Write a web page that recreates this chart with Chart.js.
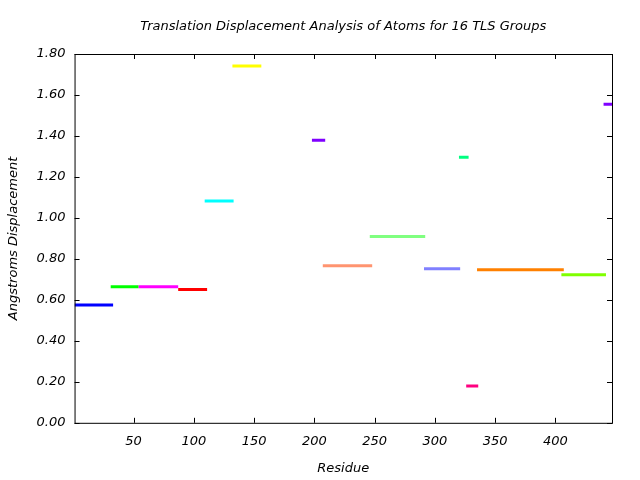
<!DOCTYPE html>
<html>
<head>
<meta charset="utf-8">
<script src="https://cdn.jsdelivr.net/npm/chart.js@4/dist/chart.umd.min.js"></script>
<style>
  html, body { margin: 0; padding: 0; background: #fff; }
  #wrap { width: 640px; height: 480px; }
</style>
</head>
<body>
<div id="wrap"><canvas id="tls-canvas"></canvas></div>
<script>
// TLS group residue ranges and their translation displacement
var groupStart = [1, 31, 54, 87, 109, 132, 198, 207, 246, 291, 320, 326, 335, 405, 440];
var groupEnd   = [33, 54, 87, 111, 133, 156, 209, 248, 292, 321, 328, 336, 407, 442, 447];
var groupValue = [0.575, 0.664, 0.664, 0.650, 1.082, 1.741, 1.379, 0.767, 0.909, 0.752, 1.296, 0.180, 0.747, 0.723, 1.555];
var xTicks = [50, 100, 150, 200, 250, 300, 350, 400];
var yTicks = [0, 0.2, 0.4, 0.6, 0.8, 1.0, 1.2, 1.4, 1.6, 1.8];
var chartTitle = 'Translation Displacement Analysis of Atoms for 16 TLS Groups';

var groupColors = ['#0000ff', '#00ff00', '#ff00ff', '#ff0000', '#00ffff', '#ffff00', '#7f00ff',
    '#ff9470', '#80ff80', '#8080ff', '#00ff80', '#ff0080', '#ff8000', '#80ff00', '#7f00ff'];

var fontFam = '"DejaVu Sans", sans-serif';

var datasets = groupStart.map(function(s, i) {
    return {
        label: 'Group ' + (i + 1),
        data: [{x: s, y: groupValue[i]}, {x: groupEnd[i], y: groupValue[i]}],
        showLine: true,
        borderColor: groupColors[i],
        borderWidth: 3,
        pointRadius: 0,
        borderCapStyle: 'butt'
    };
});

// gnuplot style frame with inward ticks on all sides, title centred on the plot
var framePlugin = {
    id: 'frame',
    afterDraw: function(chart) {
        var c = chart.ctx, a = chart.chartArea;
        var xs = chart.scales.x, ys = chart.scales.y;
        c.save();
        c.strokeStyle = '#000';
        c.lineWidth = 1;
        c.strokeRect(a.left + 0.5, a.top + 0.5, a.right - a.left, a.bottom - a.top);
        c.beginPath();
        xTicks.forEach(function(v) {
            var px = Math.round(xs.getPixelForValue(v)) + 0.5;
            c.moveTo(px, a.bottom); c.lineTo(px, a.bottom - 5);
            c.moveTo(px, a.top); c.lineTo(px, a.top + 5);
        });
        yTicks.forEach(function(v) {
            var py = Math.round(ys.getPixelForValue(v)) + 0.5;
            c.moveTo(a.left, py); c.lineTo(a.left + 5, py);
            c.moveTo(a.right, py); c.lineTo(a.right - 5, py);
        });
        c.stroke();
        c.fillStyle = '#000';
        c.font = 'italic 13px ' + fontFam;
        c.textAlign = 'center';
        c.textBaseline = 'middle';
        c.fillText(chartTitle, (a.left + a.right) / 2, 27);
        c.restore();
    }
};

new Chart(document.getElementById('tls-canvas').getContext('2d'), {
    type: 'scatter',
    data: { datasets: datasets },
    plugins: [framePlugin],
    options: {
        responsive: true,
        maintainAspectRatio: false,
        animation: false,
        layout: { padding: { left: 6, right: 28, top: 54, bottom: 4 } },
        plugins: {
            legend: { display: false },
            tooltip: { enabled: false },
            title: { display: false }
        },
        scales: {
            x: {
                type: 'linear',
                min: 1,
                max: 447,
                afterBuildTicks: function(axis) {
                    axis.ticks = xTicks.map(function(v) { return {value: v}; });
                },
                grid: { display: false, drawTicks: false },
                border: { display: false },
                ticks: {
                    color: '#000',
                    padding: 11,
                    maxRotation: 0,
                    font: { family: fontFam, size: 13, style: 'italic' }
                },
                title: {
                    display: true,
                    text: 'Residue',
                    color: '#000',
                    font: { family: fontFam, size: 13, style: 'italic' },
                    padding: { top: 0, bottom: 0 }
                }
            },
            y: {
                type: 'linear',
                min: 0,
                max: 1.8,
                afterBuildTicks: function(axis) {
                    axis.ticks = yTicks.map(function(v) { return {value: v}; });
                },
                grid: { display: false, drawTicks: false },
                border: { display: false },
                ticks: {
                    color: '#000',
                    padding: 9,
                    font: { family: fontFam, size: 13, style: 'italic' },
                    callback: function(v) { return Number(v).toFixed(2); }
                },
                title: {
                    display: true,
                    text: 'Angstroms Displacement',
                    color: '#000',
                    font: { family: fontFam, size: 13, style: 'italic' },
                    padding: { top: 0, bottom: 6 }
                }
            }
        }
    }
});
</script>
</body>
</html>
